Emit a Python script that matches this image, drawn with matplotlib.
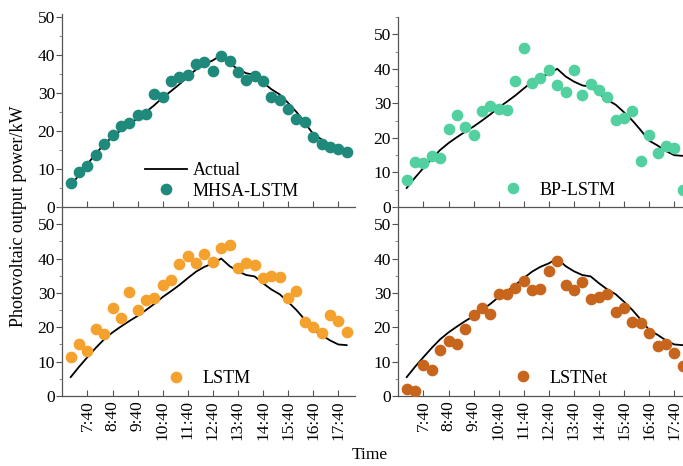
import matplotlib
matplotlib.use("Agg")
import matplotlib.pyplot as plt
from matplotlib.ticker import MultipleLocator
import numpy as np

plt.rcParams['font.family'] = ['Liberation Serif', 'DejaVu Serif']

# time steps: 7:00 to 18:00 every 20 minutes (34 points)
times = [f"{7 + (i * 20) // 60}:{(i * 20) % 60:02d}" for i in range(34)]
tick_labels = ["7:40", "8:40", "9:40", "10:40", "11:40", "12:40",
               "13:40", "14:40", "15:40", "16:40", "17:40"]

actual = [5.5, 8.5, 11.3, 14.0, 16.5, 18.5, 20.2, 21.8, 23.3, 25.0,
          26.8, 28.8, 30.5, 32.3, 34.3, 36.2, 37.6, 38.6, 40.0, 37.8,
          36.3, 35.2, 34.8, 32.8, 31.0, 29.6, 27.4, 25.0, 22.2, 19.2,
          17.8, 16.2, 15.0, 14.8]

mhsa_lstm = [6.3, 9.1, 10.8, 13.8, 16.7, 18.9, 21.4, 22.0, 24.2, 24.5,
             29.8, 28.9, 33.2, 34.3, 34.8, 37.6, 38.1, 35.9, 39.8, 38.5,
             35.5, 33.5, 34.5, 33.2, 29.0, 28.2, 25.8, 23.2, 22.4, 18.5,
             16.5, 15.8, 15.2, 14.5]

bp_lstm = [7.8, 13.1, 12.6, 14.9, 14.1, 22.6, 26.5, 23.3, 20.9, 27.9,
           29.1, 28.3, 28.2, 36.4, 45.9, 35.9, 37.4, 39.6, 35.2, 33.3,
           39.8, 32.5, 35.7, 33.8, 31.7, 25.2, 25.9, 27.7, 13.3, 20.9,
           15.5, 17.8, 17.0, 5.0]

lstm = [11.4, 15.1, 13.1, 19.6, 18.0, 25.5, 22.6, 30.2, 25.0, 27.9,
        28.4, 32.3, 33.8, 38.4, 40.8, 38.6, 41.3, 39.1, 43.0, 44.0,
        37.2, 38.8, 38.1, 34.2, 34.9, 34.5, 28.6, 30.6, 21.6, 20.1,
        18.4, 23.5, 21.9, 18.7]

lstnet = [2.1, 1.5, 9.1, 7.5, 13.5, 16.1, 15.1, 19.6, 23.7, 25.5,
          24.0, 29.7, 29.7, 31.3, 33.6, 30.8, 31.1, 36.5, 39.3, 32.3,
          30.8, 33.3, 28.2, 28.9, 29.7, 24.5, 25.5, 21.4, 21.1, 18.4,
          14.6, 15.1, 12.5, 8.7]

models = ["MHSA-LSTM", "BP-LSTM", "LSTM", "LSTNet"]
series = [mhsa_lstm, bp_lstm, lstm, lstnet]
colors = ["#1f8a7c", "#52d0a0", "#f5a12e", "#c8651c"]

W, H = 683, 466
fig = plt.figure(figsize=(W / 100, H / 100), dpi=100)

def frac_rect(x0, ytop, x1, ybot):
    return [x0 / W, (H - ybot) / H, (x1 - x0) / W, (ybot - ytop) / H]

rects = [frac_rect(62, 14, 355, 207), frac_rect(398, 17, 691, 207),
         frac_rect(62, 207, 355, 396), frac_rect(398, 207, 691, 396)]
ytops = [50.8, 55, 55, 55]
leg_pos = [(0.283, 0.135), (0.321, 0.089), (0.317, 0.09), (0.355, 0.095)]

x = np.arange(len(times))
tick_idx = [times.index(t) for t in tick_labels]

for k in range(4):
    ax = fig.add_axes(rects[k])
    ln, = ax.plot(x, actual, color="black", lw=1.3, zorder=2, label="Actual")
    sc, = ax.plot(x, series[k], ls="none", marker="o", ms=7.4,
                  color=colors[k], mec=colors[k], zorder=3, label=models[k])
    ax.set_xlim(-1.04, 34.0)
    ax.set_ylim(0, ytops[k])
    ax.set_yticks([0, 10, 20, 30, 40, 50])
    ax.yaxis.set_minor_locator(MultipleLocator(5))
    ax.set_xticks(tick_idx)
    if k >= 2:
        ax.set_xticklabels(tick_labels, rotation=90)
    else:
        ax.set_xticklabels([])
    for s in ["top", "right"]:
        ax.spines[s].set_visible(False)
    for s in ["left", "bottom"]:
        ax.spines[s].set_color("#555555")
        ax.spines[s].set_linewidth(0.9)
    ax.tick_params(axis="x", direction="in", length=4, width=0.8,
                   color="#555555", labelsize=12.5, pad=3)
    ax.tick_params(axis="y", direction="out", length=4, width=0.8,
                   color="#555555", labelsize=12.5, pad=1)
    ax.tick_params(axis="y", which="minor", direction="out", length=2,
                   width=0.6, color="#777777")
    ax.patch.set_visible(False)
    handles = [ln, sc] if k == 0 else [sc]
    ax.legend(handles=handles, loc="center left", bbox_to_anchor=leg_pos[k],
              frameon=False, borderpad=0, borderaxespad=0, fontsize=13,
              handlelength=2.33, handletextpad=0.3, labelspacing=0.2,
              numpoints=1)

fig.text(19 / W, (H - 216) / H, "Photovoltaic output power/kW", rotation=90,
         ha="center", va="center", fontsize=13)
fig.text(370 / W, (H - 455) / H, "Time", ha="center", va="center", fontsize=12.5)

fig.savefig("out.png", dpi=100)
